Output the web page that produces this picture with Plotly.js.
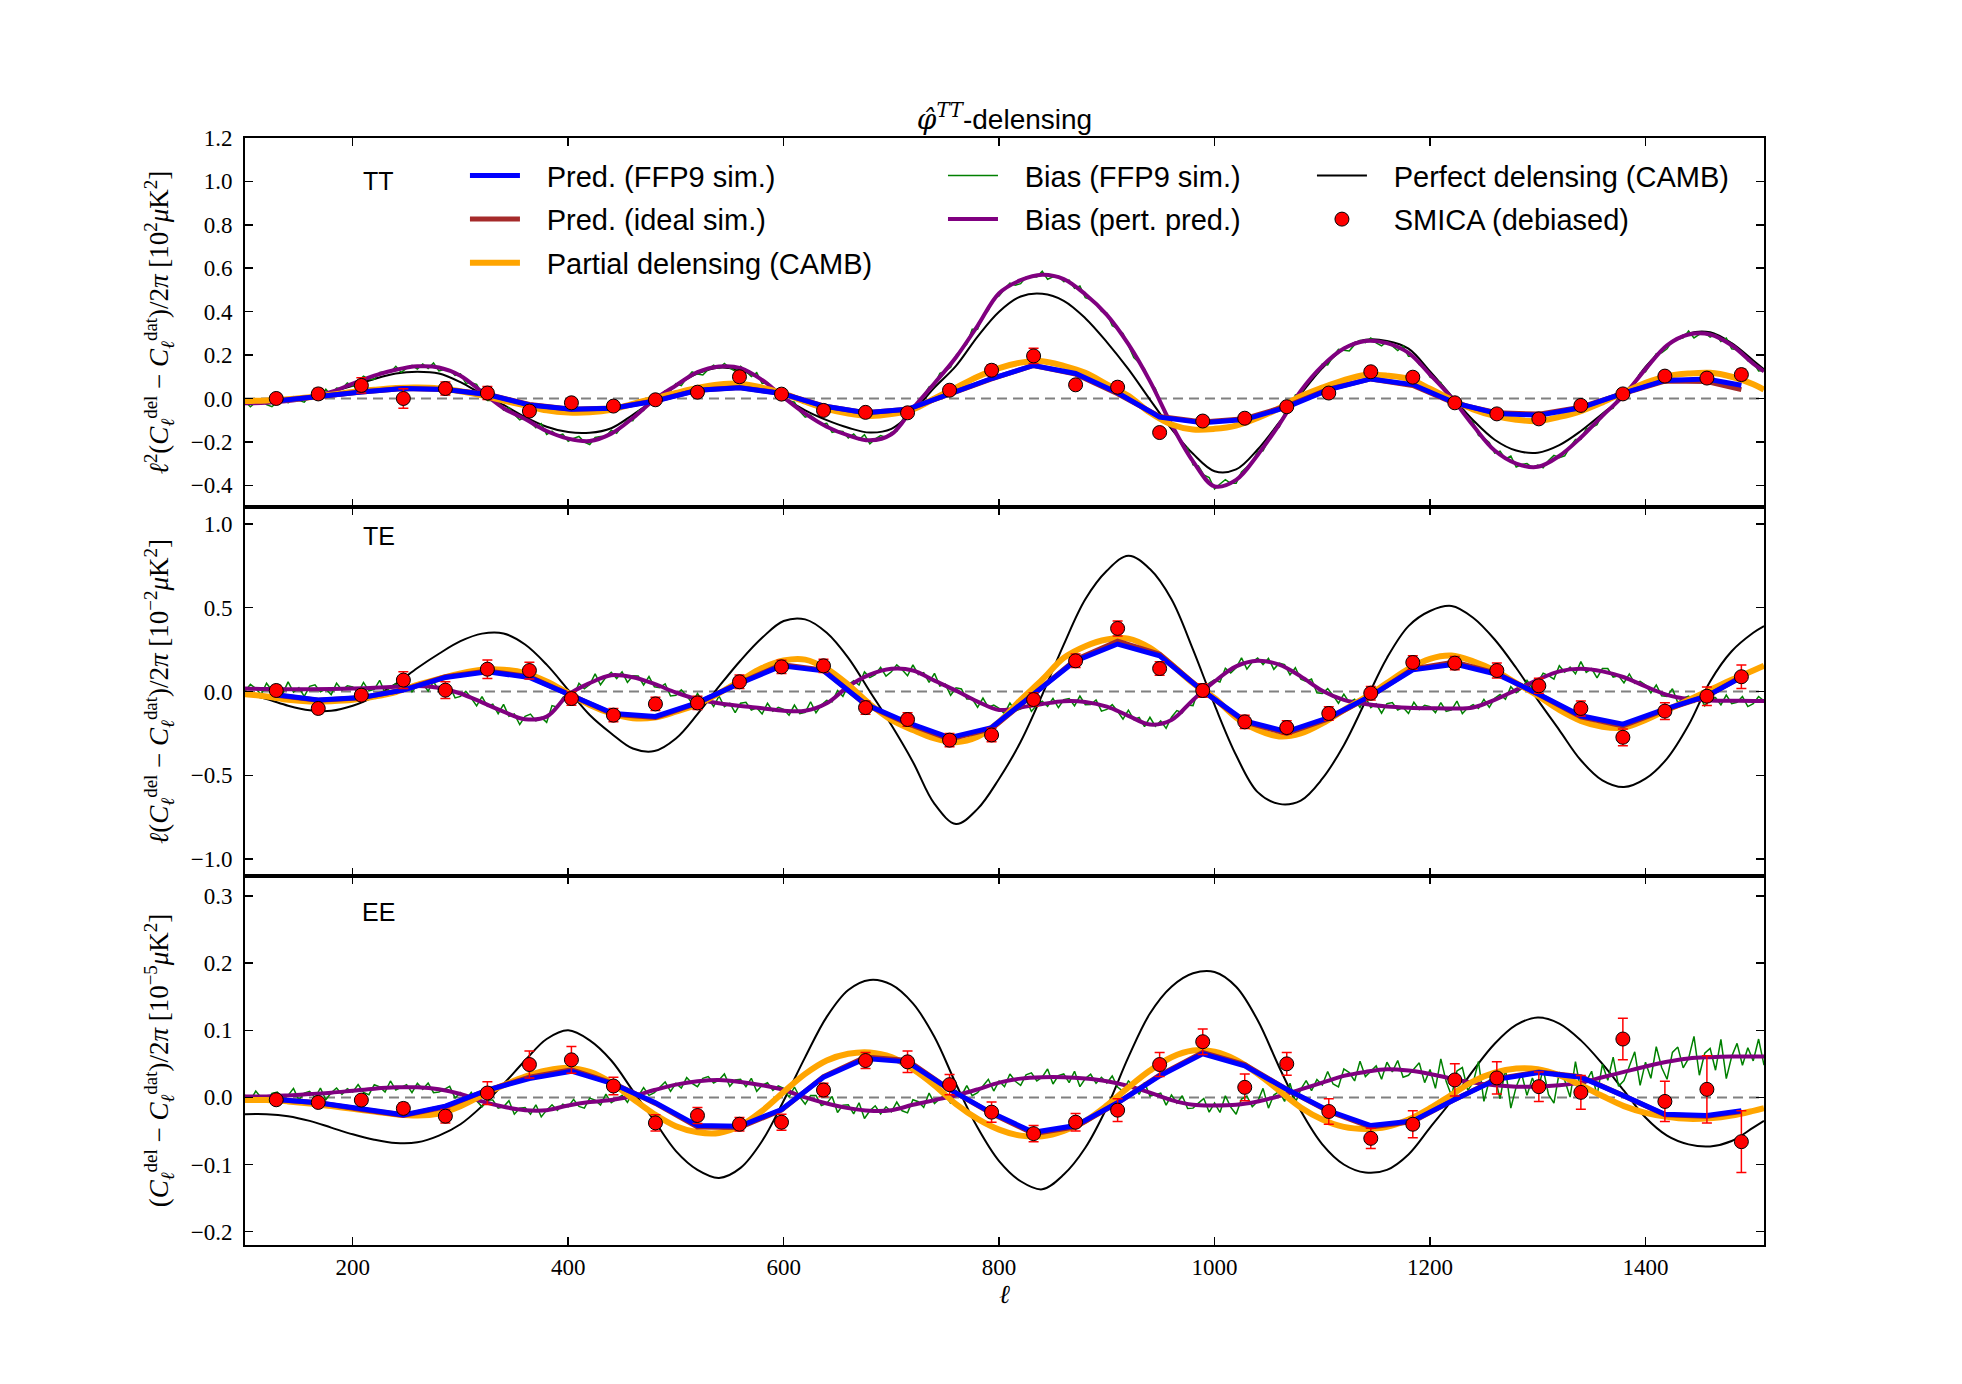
<!DOCTYPE html>
<html>
<head>
<meta charset="utf-8">
<script src="https://cdn.plot.ly/plotly-3.0.1.min.js"></script>
<style>html,body{margin:0;padding:0;background:#fff;}</style>
</head>
<body>
<div id="chart" style="width:1962px;height:1384px;"></div>
<script>
// ---------- multipole grids ----------
const ell = [100,120,140,160,180,200,220,240,260,280,
  300,320,340,360,380,400,420,440,460,480,
  500,520,540,560,580,600,620,640,660,680,
  700,720,740,760,780,800,820,840,860,880,
  900,920,940,960,980,1000,1020,1040,1060,1080,
  1100,1120,1140,1160,1180,1200,1220,1240,1260,1280,
  1300,1320,1340,1360,1380,1400,1420,1440,1460,1480,
  1500,1510];
const ellFine = [100,105,110,115,120,125,130,135,140,145,150,155,160,165,170,175,180,185,190,195,
  200,205,210,215,220,225,230,235,240,245,250,255,260,265,270,275,280,285,290,295,
  300,305,310,315,320,325,330,335,340,345,350,355,360,365,370,375,380,385,390,395,
  400,405,410,415,420,425,430,435,440,445,450,455,460,465,470,475,480,485,490,495,
  500,505,510,515,520,525,530,535,540,545,550,555,560,565,570,575,580,585,590,595,
  600,605,610,615,620,625,630,635,640,645,650,655,660,665,670,675,680,685,690,695,
  700,705,710,715,720,725,730,735,740,745,750,755,760,765,770,775,780,785,790,795,
  800,805,810,815,820,825,830,835,840,845,850,855,860,865,870,875,880,885,890,895,
  900,905,910,915,920,925,930,935,940,945,950,955,960,965,970,975,980,985,990,995,
  1000,1005,1010,1015,1020,1025,1030,1035,1040,1045,1050,1055,1060,1065,1070,1075,1080,1085,1090,1095,
  1100,1105,1110,1115,1120,1125,1130,1135,1140,1145,1150,1155,1160,1165,1170,1175,1180,1185,1190,1195,
  1200,1205,1210,1215,1220,1225,1230,1235,1240,1245,1250,1255,1260,1265,1270,1275,1280,1285,1290,1295,
  1300,1305,1310,1315,1320,1325,1330,1335,1340,1345,1350,1355,1360,1365,1370,1375,1380,1385,1390,1395,
  1400,1405,1410,1415,1420,1425,1430,1435,1440,1445,1450,1455,1460,1465,1470,1475,1480,1485,1490,1495,
  1500,1505,1510];
const binCenters = [129,168,208,247,286,325,364,403,442,481,520,559,598,637,676,715,754,793,
  832,871,910,949,989,1028,1067,1106,1145,1184,1223,1262,1301,1340,1379,1418,1457,1489];

// ---------- TT ----------
const ttPerfect = [-0.02,-0.017,-0.01,0.005,0.03,0.058,0.09,0.115,0.123,0.115,
  0.075,0.02,-0.03,-0.085,-0.13,-0.155,-0.158,-0.137,-0.075,-0.007,
  0.06,0.115,0.142,0.13,0.085,0.005,-0.055,-0.1,-0.135,-0.157,
  -0.14,-0.06,0.05,0.15,0.285,0.4,0.47,0.482,0.45,0.37,
  0.26,0.135,-0.005,-0.14,-0.255,-0.335,-0.327,-0.235,-0.11,0.02,
  0.14,0.23,0.27,0.265,0.23,0.125,0.011,-0.1,-0.19,-0.24,
  -0.25,-0.215,-0.15,-0.07,0.01,0.145,0.245,0.3,0.305,0.255,
  0.175,0.134];
const ttBiasPert = [-0.022,-0.02,-0.012,0.003,0.03,0.068,0.105,0.132,0.148,0.143,
  0.105,0.03,-0.045,-0.095,-0.15,-0.185,-0.196,-0.162,-0.09,-0.005,
  0.06,0.121,0.147,0.14,0.085,0.005,-0.07,-0.13,-0.17,-0.193,
  -0.165,-0.045,0.07,0.19,0.335,0.485,0.545,0.57,0.55,0.48,
  0.385,0.25,0.08,-0.12,-0.29,-0.405,-0.375,-0.26,-0.12,0.035,
  0.15,0.23,0.265,0.255,0.21,0.11,0.003,-0.125,-0.24,-0.3,
  -0.315,-0.265,-0.18,-0.08,0.015,0.135,0.245,0.295,0.295,0.245,
  0.16,0.125];
const ttPartial = [-0.012,-0.009,-0.004,0.006,0.017,0.03,0.04,0.048,0.05,0.046,
  0.033,0.014,-0.01,-0.032,-0.055,-0.065,-0.064,-0.052,-0.025,0.0,
  0.025,0.048,0.064,0.068,0.05,0.022,-0.015,-0.048,-0.07,-0.081,
  -0.072,-0.05,0.0,0.05,0.1,0.14,0.165,0.172,0.15,0.118,
  0.065,0.012,-0.065,-0.12,-0.143,-0.14,-0.125,-0.09,-0.045,0.01,
  0.05,0.085,0.108,0.105,0.09,0.045,-0.005,-0.05,-0.08,-0.098,
  -0.104,-0.085,-0.058,-0.018,0.028,0.072,0.103,0.115,0.118,0.1,
  0.066,0.041];
const ttBiasSim = [
  -0.014,-0.038,-0.017,-0.005,-0.028,-0.038,-0.016,-0.002,-0.02,0.008,-0.009,-0.017,0.011,0.01,0.005,0.043,0.014,0.048,0.045,0.071,
  0.056,0.081,0.103,0.088,0.089,0.12,0.123,0.121,0.148,0.12,0.14,0.152,0.136,0.159,0.138,0.164,0.127,0.133,0.132,0.106,
  0.113,0.07,0.072,0.065,0.022,-0.009,-0.008,-0.014,-0.053,-0.042,-0.074,-0.099,-0.087,-0.109,-0.135,-0.116,-0.166,-0.151,-0.172,-0.164,
  -0.197,-0.184,-0.175,-0.201,-0.212,-0.18,-0.175,-0.175,-0.146,-0.16,-0.126,-0.1,-0.102,-0.057,-0.056,-0.006,-0.021,0.011,0.036,0.036,
  0.068,0.059,0.095,0.122,0.113,0.108,0.134,0.153,0.139,0.161,0.14,0.126,0.148,0.126,0.101,0.119,0.069,0.073,0.041,0.037,
  -0.007,-0.01,-0.017,-0.059,-0.086,-0.077,-0.096,-0.119,-0.114,-0.156,-0.15,-0.152,-0.182,-0.164,-0.19,-0.167,-0.209,-0.186,-0.171,-0.18,
  -0.157,-0.151,-0.101,-0.059,-0.053,-0.036,0.013,0.053,0.062,0.116,0.126,0.144,0.198,0.226,0.251,0.319,0.319,0.381,0.406,0.46,
  0.473,0.504,0.531,0.522,0.529,0.559,0.562,0.56,0.586,0.549,0.56,0.563,0.538,0.545,0.507,0.518,0.464,0.456,0.441,0.401,
  0.393,0.335,0.322,0.3,0.242,0.188,0.165,0.135,0.072,0.046,-0.024,-0.086,-0.112,-0.163,-0.217,-0.228,-0.306,-0.311,-0.352,-0.364,
  -0.417,-0.394,-0.374,-0.391,-0.391,-0.338,-0.314,-0.293,-0.244,-0.241,-0.19,-0.147,-0.132,-0.069,-0.051,0.016,0.019,0.064,0.101,0.113,
  0.158,0.154,0.194,0.226,0.222,0.219,0.248,0.268,0.257,0.279,0.256,0.242,0.263,0.244,0.221,0.241,0.194,0.193,0.156,0.147,
  0.098,0.087,0.073,0.022,-0.013,-0.021,-0.057,-0.097,-0.109,-0.17,-0.183,-0.203,-0.252,-0.243,-0.278,-0.265,-0.316,-0.304,-0.3,-0.319,
  -0.307,-0.319,-0.286,-0.262,-0.273,-0.264,-0.223,-0.189,-0.188,-0.139,-0.134,-0.121,-0.072,-0.056,-0.045,0.011,-0.001,0.053,0.071,0.117,
  0.123,0.167,0.206,0.21,0.229,0.266,0.274,0.279,0.311,0.279,0.295,0.303,0.283,0.295,0.262,0.278,0.229,0.224,0.211,0.173,
  0.168,0.127,0.129];
const ttPredSim = [-0.012,0.01,0.03,0.046,0.041,0.018,-0.03,-0.05,-0.045,-0.012,0.038,0.049,0.023,-0.035,-0.066,-0.05,0.021,0.092,
  0.152,0.115,0.026,-0.086,-0.112,-0.097,-0.04,0.041,0.09,0.064,-0.02,-0.069,-0.077,-0.043,0.023,0.083,0.09,0.061];
const ttPredIdeal = [-0.012,0.01,0.03,0.046,0.041,0.02,-0.028,-0.05,-0.044,-0.01,0.038,0.05,0.024,-0.034,-0.066,-0.05,0.02,0.09,
  0.152,0.112,0.022,-0.083,-0.108,-0.093,-0.035,0.043,0.09,0.06,-0.023,-0.066,-0.072,-0.04,0.022,0.08,0.078,0.041];
const ttSmica = [0.0,0.021,0.06,0.0,0.046,0.025,-0.058,-0.02,-0.035,-0.006,0.029,0.10,0.02,-0.055,-0.064,-0.066,0.038,0.13,
  0.196,0.063,0.052,-0.157,-0.104,-0.091,-0.038,0.025,0.123,0.098,-0.02,-0.071,-0.094,-0.032,0.021,0.103,0.094,0.11];
const ttSmicaErr = [0.02,0.025,0.035,0.045,0.03,0.03,0.02,0.02,0.02,0.02,0.02,0.025,0.02,0.02,0.02,0.02,0.02,0.025,
  0.035,0.02,0.025,0.02,0.02,0.02,0.02,0.02,0.02,0.02,0.02,0.02,0.02,0.02,0.02,0.02,0.02,0.025];

// ---------- TE ----------
const tePerfect = [-0.016,-0.045,-0.085,-0.112,-0.115,-0.085,-0.03,0.045,0.14,0.225,
  0.3,0.345,0.346,0.28,0.16,0.01,-0.14,-0.25,-0.34,-0.355,
  -0.28,-0.135,0.03,0.185,0.32,0.42,0.43,0.35,0.2,0.0,
  -0.2,-0.42,-0.67,-0.79,-0.7,-0.52,-0.3,-0.02,0.28,0.55,
  0.72,0.81,0.73,0.55,0.25,-0.08,-0.38,-0.6,-0.67,-0.65,
  -0.52,-0.32,-0.06,0.2,0.39,0.48,0.51,0.44,0.31,0.14,
  -0.05,-0.23,-0.41,-0.53,-0.57,-0.52,-0.4,-0.2,0.06,0.24,
  0.35,0.39];
const teBiasPert = [0.018,0.015,0.014,0.014,0.015,0.018,0.022,0.028,0.033,0.022,
  -0.012,-0.065,-0.12,-0.165,-0.15,-0.02,0.05,0.097,0.085,0.045,
  -0.006,-0.046,-0.07,-0.087,-0.1,-0.115,-0.115,-0.07,0.03,0.1,
  0.135,0.125,0.065,0.005,-0.06,-0.11,-0.095,-0.075,-0.058,-0.062,
  -0.09,-0.145,-0.197,-0.17,-0.05,0.06,0.15,0.183,0.16,0.09,
  0.005,-0.05,-0.075,-0.09,-0.097,-0.1,-0.101,-0.095,-0.05,0.01,
  0.07,0.12,0.135,0.12,0.085,0.03,-0.02,-0.045,-0.053,-0.055,
  -0.056,-0.056];
const tePartial = [-0.016,-0.03,-0.05,-0.06,-0.058,-0.05,-0.03,-0.003,0.04,0.075,
  0.108,0.13,0.13,0.11,0.06,-0.01,-0.08,-0.13,-0.159,-0.155,
  -0.12,-0.076,-0.01,0.066,0.14,0.185,0.19,0.135,0.04,-0.075,
  -0.17,-0.23,-0.28,-0.302,-0.27,-0.18,-0.05,0.07,0.2,0.27,
  0.31,0.315,0.26,0.16,0.05,-0.04,-0.155,-0.23,-0.268,-0.25,
  -0.19,-0.11,-0.035,0.05,0.135,0.195,0.214,0.18,0.125,0.05,
  -0.025,-0.11,-0.175,-0.21,-0.215,-0.17,-0.11,-0.05,0.01,0.07,
  0.125,0.153];
const teBiasSim = [
  0.001,0.043,0.017,-0.018,0.049,0.006,0.032,-0.012,0.057,-0.003,0.023,-0.029,0.031,0.04,-0.002,0.015,-0.019,0.05,0.008,0.034,
  0.027,-0.007,0.054,0.004,0.013,0.067,-0.009,0.027,0.045,0.012,0.057,-0.002,0.042,0.047,0.002,0.059,0.005,0.005,0.031,-0.038,
  -0.029,0.001,-0.039,-0.086,-0.031,-0.088,-0.076,-0.132,-0.077,-0.148,-0.134,-0.197,-0.148,-0.135,-0.175,-0.154,-0.184,-0.084,-0.094,-0.036,
  -0.011,-0.029,0.049,0.016,0.041,0.105,0.04,0.085,0.114,0.077,0.117,0.054,0.094,0.092,0.039,0.089,0.028,0.023,0.046,-0.027,
  -0.023,0.01,-0.026,-0.07,-0.012,-0.061,-0.041,-0.09,-0.027,-0.091,-0.07,-0.126,-0.07,-0.064,-0.111,-0.097,-0.134,-0.07,-0.117,-0.094,
  -0.106,-0.141,-0.081,-0.132,-0.124,-0.061,-0.127,-0.081,-0.053,-0.062,0.006,-0.029,0.039,0.065,0.039,0.117,0.083,0.1,0.144,0.092,
  0.118,0.159,0.13,0.094,0.159,0.101,0.112,0.054,0.108,0.033,0.044,-0.023,0.022,0.015,-0.045,-0.044,-0.094,-0.039,-0.094,-0.081,
  -0.101,-0.132,-0.069,-0.116,-0.104,-0.047,-0.119,-0.08,-0.058,-0.088,-0.041,-0.096,-0.049,-0.042,-0.086,-0.027,-0.079,-0.078,-0.05,-0.117,
  -0.107,-0.078,-0.118,-0.165,-0.111,-0.167,-0.154,-0.21,-0.154,-0.207,-0.175,-0.22,-0.153,-0.114,-0.127,-0.08,-0.084,0.011,-0.004,0.05,
  0.069,0.057,0.139,0.111,0.141,0.201,0.133,0.175,0.2,0.16,0.198,0.132,0.169,0.16,0.099,0.142,0.073,0.06,0.074,-0.008,
  -0.012,0.017,-0.023,-0.07,-0.016,-0.065,-0.046,-0.095,-0.032,-0.096,-0.074,-0.129,-0.073,-0.066,-0.111,-0.095,-0.131,-0.064,-0.108,-0.082,
  -0.091,-0.126,-0.066,-0.118,-0.11,-0.057,-0.132,-0.097,-0.078,-0.101,-0.047,-0.095,-0.041,-0.018,-0.046,0.029,-0.007,0.016,0.066,0.021,
  0.053,0.109,0.095,0.074,0.154,0.115,0.145,0.105,0.178,0.114,0.137,0.081,0.137,0.137,0.086,0.094,0.051,0.105,0.049,0.061,
  0.039,-0.008,0.039,-0.025,-0.029,0.017,-0.067,-0.039,-0.028,-0.064,-0.023,-0.085,-0.044,-0.037,-0.08,-0.021,-0.072,-0.064,-0.03,-0.09,
  -0.073,-0.03,-0.056];
const tePredSim = [-0.02,-0.05,-0.036,0.008,0.084,0.117,0.084,-0.026,-0.131,-0.149,-0.066,0.048,0.153,0.123,-0.076,-0.185,-0.275,-0.215,
  -0.016,0.183,0.283,0.213,0.004,-0.175,-0.239,-0.155,-0.026,0.129,0.163,0.103,-0.016,-0.145,-0.195,-0.105,-0.026,0.084];
const tePredIdeal = [-0.022,-0.052,-0.038,0.01,0.088,0.122,0.088,-0.026,-0.136,-0.155,-0.07,0.05,0.16,0.128,-0.078,-0.192,-0.284,-0.222,
  -0.016,0.19,0.3,0.222,0.004,-0.182,-0.25,-0.162,-0.028,0.135,0.175,0.108,-0.018,-0.152,-0.205,-0.11,-0.028,0.088];
const teSmica = [0.006,-0.101,-0.022,0.068,0.008,0.133,0.125,-0.042,-0.141,-0.074,-0.068,0.058,0.147,0.153,-0.096,-0.167,-0.29,-0.259,
  -0.048,0.183,0.376,0.137,0.006,-0.181,-0.215,-0.131,-0.01,0.173,0.169,0.125,0.034,-0.101,-0.273,-0.117,-0.028,0.088];
const teSmicaErr = [0.03,0.03,0.03,0.05,0.05,0.055,0.05,0.04,0.04,0.04,0.04,0.04,0.04,0.04,0.04,0.04,0.04,0.04,
  0.04,0.04,0.045,0.04,0.04,0.04,0.04,0.04,0.04,0.04,0.04,0.045,0.045,0.045,0.05,0.05,0.055,0.07];

// ---------- EE ----------
const eePerfect = [-0.025,-0.025,-0.028,-0.035,-0.045,-0.055,-0.063,-0.068,-0.067,-0.057,
  -0.04,-0.013,0.02,0.055,0.087,0.1,0.085,0.055,0.01,-0.035,
  -0.08,-0.108,-0.12,-0.105,-0.065,-0.005,0.06,0.12,0.16,0.175,
  0.168,0.14,0.09,0.02,-0.045,-0.095,-0.125,-0.137,-0.115,-0.075,
  -0.015,0.06,0.125,0.165,0.185,0.187,0.165,0.115,0.045,-0.02,
  -0.07,-0.1,-0.112,-0.108,-0.085,-0.045,-0.005,0.04,0.08,0.108,
  0.119,0.11,0.085,0.05,0.01,-0.03,-0.057,-0.07,-0.073,-0.065,
  -0.045,-0.035];
const eeBiasPert = [0.0015,0.0015,0.003,0.005,0.007,0.01,0.013,0.015,0.015,0.012,
  0.005,-0.006,-0.014,-0.019,-0.019,-0.012,-0.007,-0.004,0.002,0.011,
  0.019,0.024,0.026,0.023,0.018,0.011,0.0,-0.009,-0.016,-0.02,
  -0.019,-0.011,-0.004,0.003,0.012,0.022,0.028,0.03,0.03,0.028,
  0.024,0.017,0.007,-0.004,-0.011,-0.012,-0.011,-0.006,0.002,0.012,
  0.022,0.032,0.038,0.042,0.04,0.035,0.028,0.022,0.018,0.016,
  0.016,0.018,0.022,0.03,0.038,0.046,0.053,0.058,0.06,0.061,
  0.061,0.061];
const eePartial = [-0.004,-0.004,-0.006,-0.009,-0.013,-0.017,-0.021,-0.025,-0.027,-0.024,
  -0.013,0.003,0.018,0.031,0.04,0.044,0.038,0.022,-0.002,-0.025,
  -0.043,-0.052,-0.053,-0.042,-0.02,0.008,0.035,0.055,0.065,0.067,
  0.06,0.042,0.018,-0.01,-0.032,-0.048,-0.057,-0.058,-0.05,-0.035,
  -0.012,0.015,0.04,0.06,0.07,0.068,0.056,0.035,0.01,-0.015,
  -0.033,-0.044,-0.047,-0.044,-0.033,-0.016,0.004,0.024,0.037,0.043,
  0.042,0.033,0.018,0.002,-0.013,-0.023,-0.029,-0.032,-0.031,-0.027,
  -0.02,-0.016];
const eeBiasSim = [
  0.0035,-0.0045,0.0095,-0.0005,-0.0065,0.006,0.008,-0.0015,0.003,0.0135,-0.004,0.0065,0.009,-0.0005,0.014,-0.0035,0.007,0.014,0.0045,0.013,
  0.008,0.019,0.0075,0.004,0.019,0.0155,0.008,0.0245,0.011,0.015,0.019,0.007,0.021,0.012,0.0215,0.007,0.008,0.012,0.0165,-0.001,
  0.007,-0.004,0.0075,-0.005,-0.014,-0.004,-0.004,-0.016,-0.014,-0.005,-0.025,-0.016,-0.015,-0.025,-0.011,-0.029,-0.019,-0.011,-0.0195,-0.01,
  -0.014,-0.003,-0.0135,-0.016,-0.001,-0.004,-0.0115,0.005,-0.008,-0.0025,0.003,-0.0075,0.008,0.002,0.0145,0.003,0.007,0.015,0.023,0.009,
  0.021,0.014,0.0295,0.021,0.016,0.0285,0.031,0.0215,0.026,0.035,0.0165,0.026,0.027,0.016,0.0285,0.009,0.018,0.022,0.0105,0.017,
  0.0135,0.0005,0.0155,0.0005,-0.01,0.003,0.003,-0.012,-0.009,0.0015,-0.0225,-0.0115,-0.011,-0.0245,-0.008,-0.0315,-0.02,-0.0125,-0.0245,-0.014,
  -0.0215,-0.007,-0.02,-0.023,-0.0035,-0.0065,-0.015,0.0065,-0.009,-0.002,0.0045,-0.009,0.0105,0.0025,0.0175,0.0025,0.007,0.017,0.027,0.0095,
  0.0245,0.016,0.035,0.024,0.018,0.0335,0.0365,0.0245,0.03,0.0425,0.02,0.0325,0.035,0.022,0.039,0.016,0.028,0.0345,0.021,0.03,
  0.0215,0.032,0.0155,0.009,0.0245,0.017,0.0045,0.022,0.002,0.004,0.0065,-0.0115,0.0035,-0.0085,0.0025,-0.0165,-0.016,-0.0085,-0.0015,-0.022,
  -0.0085,-0.0225,0.0025,-0.0145,-0.025,-0.0025,0.002,-0.014,-0.006,0.0135,-0.016,0.0035,0.009,-0.006,0.021,-0.008,0.012,0.025,0.01,0.0265,
  0.0185,0.0385,0.02,0.0155,0.0425,0.037,0.0245,0.054,0.031,0.039,0.047,0.027,0.0525,0.038,0.055,0.03,0.033,0.0425,0.0515,0.022,
  0.0415,0.0135,0.0575,0.0235,0.002,0.0395,0.0445,0.0105,0.022,0.0535,-0.006,0.0255,0.031,-0.002,0.043,-0.016,0.016,0.0355,0.003,0.029,
  0.0095,0.0425,0.004,-0.0085,0.0375,0.0255,0.0005,0.0535,0.009,0.024,0.039,0.002,0.0495,0.0255,0.06,0.0165,0.025,0.0465,0.068,0.018,
  0.0525,0.0285,0.0755,0.0445,0.027,0.067,0.075,0.044,0.058,0.091,0.033,0.066,0.073,0.0405,0.0865,0.028,0.061,0.0805,0.048,0.074,
  0.0545,0.087,0.048];
const eePredSim = [-0.003,-0.008,-0.017,-0.026,-0.013,0.011,0.028,0.039,0.02,-0.008,-0.042,-0.043,-0.018,0.03,0.058,0.053,0.012,-0.023,
  -0.052,-0.042,-0.008,0.032,0.065,0.047,0.012,-0.02,-0.042,-0.035,-0.003,0.027,0.037,0.03,0.003,-0.025,-0.027,-0.02];
const eePredIdeal = [-0.003,-0.008,-0.018,-0.027,-0.014,0.011,0.03,0.041,0.021,-0.009,-0.044,-0.045,-0.019,0.031,0.06,0.055,0.012,-0.024,
  -0.054,-0.044,-0.008,0.033,0.067,0.049,0.012,-0.021,-0.044,-0.036,-0.003,0.028,0.038,0.031,0.003,-0.026,-0.028,-0.021];
const eeSmica = [-0.0035,-0.0075,-0.004,-0.0164,-0.028,0.0065,0.049,0.056,0.017,-0.038,-0.027,-0.04,-0.037,0.011,0.055,0.053,0.019,-0.022,
  -0.054,-0.037,-0.019,0.049,0.083,0.015,0.05,-0.021,-0.061,-0.04,0.026,0.029,0.016,0.0075,0.087,-0.006,0.012,-0.066];
const eeSmicaErr = [0.006,0.006,0.006,0.008,0.01,0.017,0.02,0.02,0.013,0.012,0.012,0.01,0.012,0.01,0.012,0.016,0.015,0.015,
  0.012,0.013,0.017,0.018,0.019,0.02,0.017,0.019,0.015,0.02,0.024,0.024,0.022,0.025,0.031,0.03,0.05,0.046];

// ---------- ticks / labels ----------
const xTicks = [200,400,600,800,1000,1200,1400];
const ttTicks = [-0.4,-0.2,0.0,0.2,0.4,0.6,0.8,1.0,1.2];
const teTicks = [-1.0,-0.5,0.0,0.5,1.0];
const eeTicks = [-0.2,-0.1,0.0,0.1,0.2,0.3];
const panelNames = ['TT','TE','EE'];
const seriesNames = ['Pred. (FFP9 sim.)','Pred. (ideal sim.)','Partial delensing (CAMB)',
  'Bias (FFP9 sim.)','Bias (pert. pred.)','Perfect delensing (CAMB)','SMICA (debiased)'];

// ---------- build traces ----------
const GAP = '\u2002\u2005'; // visual gap between legend handle and label
function panelTraces(xa, ya, d, leg) {
  const common = {xaxis: xa, yaxis: ya, hoverinfo: 'skip'};
  return [
    Object.assign({type:'scatter', mode:'lines', x: ell, y: d.perfect, name: GAP + seriesNames[5],
      line:{color:'black', width:2, shape:'spline', smoothing:1},
      showlegend: leg, legend:'legend3', legendgroup:'g6', legendrank:1}, common),
    Object.assign({type:'scatter', mode:'lines', x: ellFine, y: d.biasSim, name: GAP + seriesNames[3],
      line:{color:'#008000', width:1.5},
      showlegend: leg, legend:'legend2', legendgroup:'g4', legendrank:1}, common),
    Object.assign({type:'scatter', mode:'lines', x: ell, y: d.biasPert, name: GAP + seriesNames[4],
      line:{color:'#800080', width:4, shape:'spline', smoothing:1},
      showlegend: leg, legend:'legend2', legendgroup:'g5', legendrank:2}, common),
    Object.assign({type:'scatter', mode:'lines', x: ell, y: d.partial, name: GAP + seriesNames[2],
      line:{color:'#FFA500', width:6, shape:'spline', smoothing:1},
      showlegend: leg, legend:'legend', legendgroup:'g3', legendrank:3}, common),
    Object.assign({type:'scatter', mode:'lines', x: binCenters, y: d.predIdeal, name: GAP + seriesNames[1],
      line:{color:'#A52A2A', width:5},
      showlegend: leg, legend:'legend', legendgroup:'g2', legendrank:2}, common),
    Object.assign({type:'scatter', mode:'lines', x: binCenters, y: d.predSim, name: GAP + seriesNames[0],
      line:{color:'#0000FF', width:5},
      showlegend: leg, legend:'legend', legendgroup:'g1', legendrank:1}, common),
    Object.assign({type:'scatter', mode:'markers', x: binCenters, y: d.smica, name: GAP + seriesNames[6],
      marker:{color:'#FF0000', size:14, line:{color:'black', width:1}},
      error_y:{type:'data', array: d.err, visible:true, color:'#FF0000', thickness:1.5, width:5},
      showlegend: leg, legend:'legend3', legendgroup:'g7', legendrank:2}, common)
  ];
}

const traces = [].concat(
  panelTraces('x','y', {perfect:ttPerfect, biasSim:ttBiasSim, biasPert:ttBiasPert, partial:ttPartial,
    predIdeal:ttPredIdeal, predSim:ttPredSim, smica:ttSmica, err:ttSmicaErr}, true),
  panelTraces('x2','y2', {perfect:tePerfect, biasSim:teBiasSim, biasPert:teBiasPert, partial:tePartial,
    predIdeal:tePredIdeal, predSim:tePredSim, smica:teSmica, err:teSmicaErr}, false),
  panelTraces('x3','y3', {perfect:eePerfect, biasSim:eeBiasSim, biasPert:eeBiasPert, partial:eePartial,
    predIdeal:eePredIdeal, predSim:eePredSim, smica:eeSmica, err:eeSmicaErr}, false)
);

// ---------- layout ----------
const serif = 'Liberation Serif, DejaVu Serif, serif';
const sans = 'Liberation Sans, Arial, sans-serif';
function axBase() {
  return {showline:true, linecolor:'black', linewidth:2, mirror:'allticks', ticks:'inside',
    ticklen:8, tickwidth:1.5, tickcolor:'black', showgrid:false, zeroline:false,
    tickfont:{family: serif, size:23, color:'black'}, ticklabelstandoff:6};
}
function xAx(anchor, labels) {
  return Object.assign(axBase(), {anchor: anchor, domain:[0,1], range:[100,1510],
    tickmode:'array', tickvals: xTicks, ticktext: xTicks.map(String), showticklabels: labels, ticklabelstandoff:0});
}
function yAx(anchor, dom, rng, ticks, title) {
  return Object.assign(axBase(), {anchor: anchor, domain: dom, range: rng,
    tickmode:'array', tickvals: ticks, ticktext: ticks.map(v => (v < 0 ? '\u2212' : '') + Math.abs(v).toFixed(1)),
    title:{text: title, font:{family: serif, size:27, color:'black'}, standoff:14}});
}
const Cdiff = '(<i>C</i><sub><i>ℓ</i></sub><sup>del</sup> \u2212 <i>C</i><sub><i>ℓ</i></sub><sup>dat</sup>)/2<i>π</i>';

const legendCommon = {yref:'paper', xref:'paper', xanchor:'left', yanchor:'top', y:0.9891,
  bgcolor:'rgba(0,0,0,0)', borderwidth:0, traceorder:'grouped', tracegroupgap:3, itemwidth:50,
  font:{family: sans, size:29, color:'black'}};

const layout = {
  width:1962, height:1384,
  margin:{l:245, r:198, t:138, b:139},
  paper_bgcolor:'white', plot_bgcolor:'white',
  showlegend:true,
  title:{text:'<span style="font-family:DejaVu Serif"><i>φ\u0302</i><sup><i>TT</i></sup></span>-delensing',
    x:0.5, xref:'paper', xanchor:'center', y:1-119/1384, yref:'container', yanchor:'middle',
    font:{family: sans, size:28, color:'black'}},
  xaxis: xAx('y', false),
  xaxis2: xAx('y2', false),
  xaxis3: Object.assign(xAx('y3', true), {title:{text:'<i>ℓ</i>', font:{family: serif, size:26, color:'black'}, standoff:6}}),
  yaxis: yAx('x', [2/3,1], [-0.5,1.2], ttTicks, '<i>ℓ</i><sup>2</sup>' + Cdiff + ' [10<sup>2</sup><i>μ</i>K<sup>2</sup>]'),
  yaxis2: yAx('x2', [1/3,2/3], [-1.1,1.1], teTicks, '<i>ℓ</i>' + Cdiff + ' [10<sup>\u22122</sup><i>μ</i>K<sup>2</sup>]'),
  yaxis3: yAx('x3', [0,1/3], [-0.22,0.33], eeTicks, Cdiff + ' [10<sup>\u22125</sup><i>μ</i>K<sup>2</sup>]'),
  legend: Object.assign({}, legendCommon, {x:0.1448}),
  legend2: Object.assign({}, legendCommon, {x:0.4595}),
  legend3: Object.assign({}, legendCommon, {x:0.7024}),
  annotations: [
    {text: panelNames[0], xref:'paper', yref:'paper', x:0.0882, y:0.9612, showarrow:false, xanchor:'center', yanchor:'middle', font:{family: sans, size:25, color:'black'}},
    {text: panelNames[1], xref:'paper', yref:'paper', x:0.0882, y:0.6405, showarrow:false, xanchor:'center', yanchor:'middle', font:{family: sans, size:25, color:'black'}},
    {text: panelNames[2], xref:'paper', yref:'paper', x:0.0882, y:0.3008, showarrow:false, xanchor:'center', yanchor:'middle', font:{family: sans, size:25, color:'black'}}
  ],
  shapes: [
    {type:'line', xref:'x', yref:'y', x0:100, x1:1510, y0:0, y1:0, layer:'below', line:{color:'#808080', width:2, dash:'10px,6px'}},
    {type:'line', xref:'x2', yref:'y2', x0:100, x1:1510, y0:0, y1:0, layer:'below', line:{color:'#808080', width:2, dash:'10px,6px'}},
    {type:'line', xref:'x3', yref:'y3', x0:100, x1:1510, y0:0, y1:0, layer:'below', line:{color:'#808080', width:2, dash:'10px,6px'}}
  ]
};

Plotly.newPlot('chart', traces, layout, {displayModeBar:false, staticPlot:true});
</script>
</body>
</html>
